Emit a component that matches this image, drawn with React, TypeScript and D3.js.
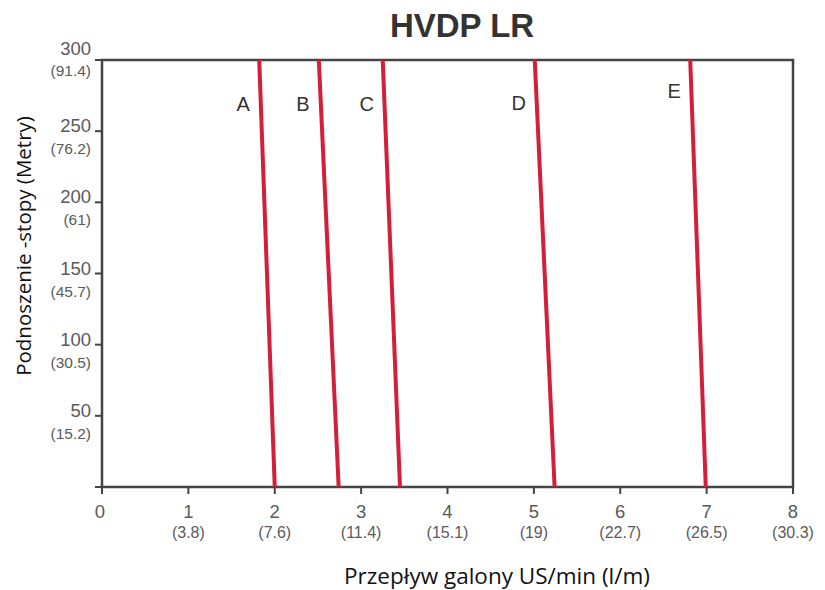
import React from 'react';
import * as d3 from 'd3';

// osie
const flowTicks = [0, 1, 2, 3, 4, 5, 6, 7, 8];
const flowLitres = ['', '(3.8)', '(7.6)', '(11.4)', '(15.1)', '(19)', '(22.7)', '(26.5)', '(30.3)'];
const headTicks = [50, 100, 150, 200, 250, 300];
const headMetres = ['(15.2)', '(30.5)', '(45.7)', '(61)', '(76.2)', '(91.4)'];

// krzywe pomp
const curveNames = ['A', 'B', 'C', 'D', 'E'];
const flowAtMaxHead = [1.82, 2.51, 3.25, 5.01, 6.81];
const flowAtZeroHead = [2.0, 2.74, 3.45, 5.24, 6.99];
const labelHead = [269, 269, 269, 270, 278];

const W = 825;
const H = 590;
const margin = { top: 60, right: 32, bottom: 103, left: 102 };

const App = () => {
  const x = d3.scaleLinear().domain([0, 8]).range([margin.left, W - margin.right]);
  const y = d3.scaleLinear().domain([0, 300]).range([H - margin.bottom, margin.top]);
  const line = d3.line<[number, number]>().x(d => x(d[0])).y(d => y(d[1]));

  const axisColor = '#444';
  const tickText = '#5a5a5a';
  const numFont = 'Liberation Sans, Arial, sans-serif';

  return (
    <svg width={W} height={H} style={{ position: 'absolute', left: 0, top: 0, background: '#fff' }}>
      <text x={462} y={37} textAnchor="middle" fontFamily={numFont} fontWeight="bold" fontSize={33} fill="#333">
        HVDP LR
      </text>

      {/* ramka */}
      <rect x={x(0)} y={y(300)} width={x(8) - x(0)} height={y(0) - y(300)} fill="none" stroke={axisColor} strokeWidth={2.5} />

      {/* os X */}
      {flowTicks.map((t, i) => (
        <g key={'x' + t}>
          <line x1={x(t)} x2={x(t)} y1={y(0)} y2={y(0) + 7} stroke={axisColor} strokeWidth={2} />
          <text x={x(t) - (t === 0 ? 2 : 0)} y={518} textAnchor="middle" fontFamily={numFont} fontSize={18.5} fill={tickText}>
            {t}
          </text>
          {flowLitres[i] && (
            <text x={x(t)} y={538} textAnchor="middle" fontFamily={numFont} fontSize={16} fill={tickText}>
              {flowLitres[i]}
            </text>
          )}
        </g>
      ))}
      <line x1={x(0) - 7} x2={x(0)} y1={y(0)} y2={y(0)} stroke={axisColor} strokeWidth={2} />

      {/* os Y */}
      {headTicks.map((t, i) => (
        <g key={'y' + t}>
          <line x1={x(0) - 7} x2={x(0)} y1={y(t)} y2={y(t)} stroke={axisColor} strokeWidth={2} />
          <text x={91} y={y(t) + (t === 300 ? -5 : 1)} textAnchor="end" fontFamily={numFont} fontSize={18.5} fill={tickText}>
            {t}
          </text>
          <text x={91} y={y(t) + (t === 300 ? 16 : 23)} textAnchor="end" fontFamily={numFont} fontSize={15.5} fill={tickText}>
            {headMetres[i]}
          </text>
        </g>
      ))}

      {/* krzywe */}
      {curveNames.map((name, i) => (
        <g key={name}>
          <path
            d={line([[flowAtMaxHead[i], 300], [flowAtZeroHead[i], 0]]) || ''}
            fill="none"
            stroke="#d21f3c"
            strokeWidth={4}
          />
          <text x={x(flowAtMaxHead[i]) - 16} y={y(labelHead[i]) + 7} textAnchor="middle" fontFamily={numFont} fontSize={20} fill="#333">
            {name}
          </text>
        </g>
      ))}

      {/* tytuly osi */}
      <text x={497} y={584} textAnchor="middle" fontFamily="Open Sans, sans-serif" fontSize={22.5} fill="#111">
        Przepływ galony US/min (l/m)
      </text>
      <text
        transform="translate(31,246) rotate(-90)"
        textAnchor="middle"
        fontFamily="Open Sans, sans-serif"
        fontSize={20.5}
        fill="#111"
      >
        Podnoszenie -stopy (Metry)
      </text>
    </svg>
  );
};

export default App;
